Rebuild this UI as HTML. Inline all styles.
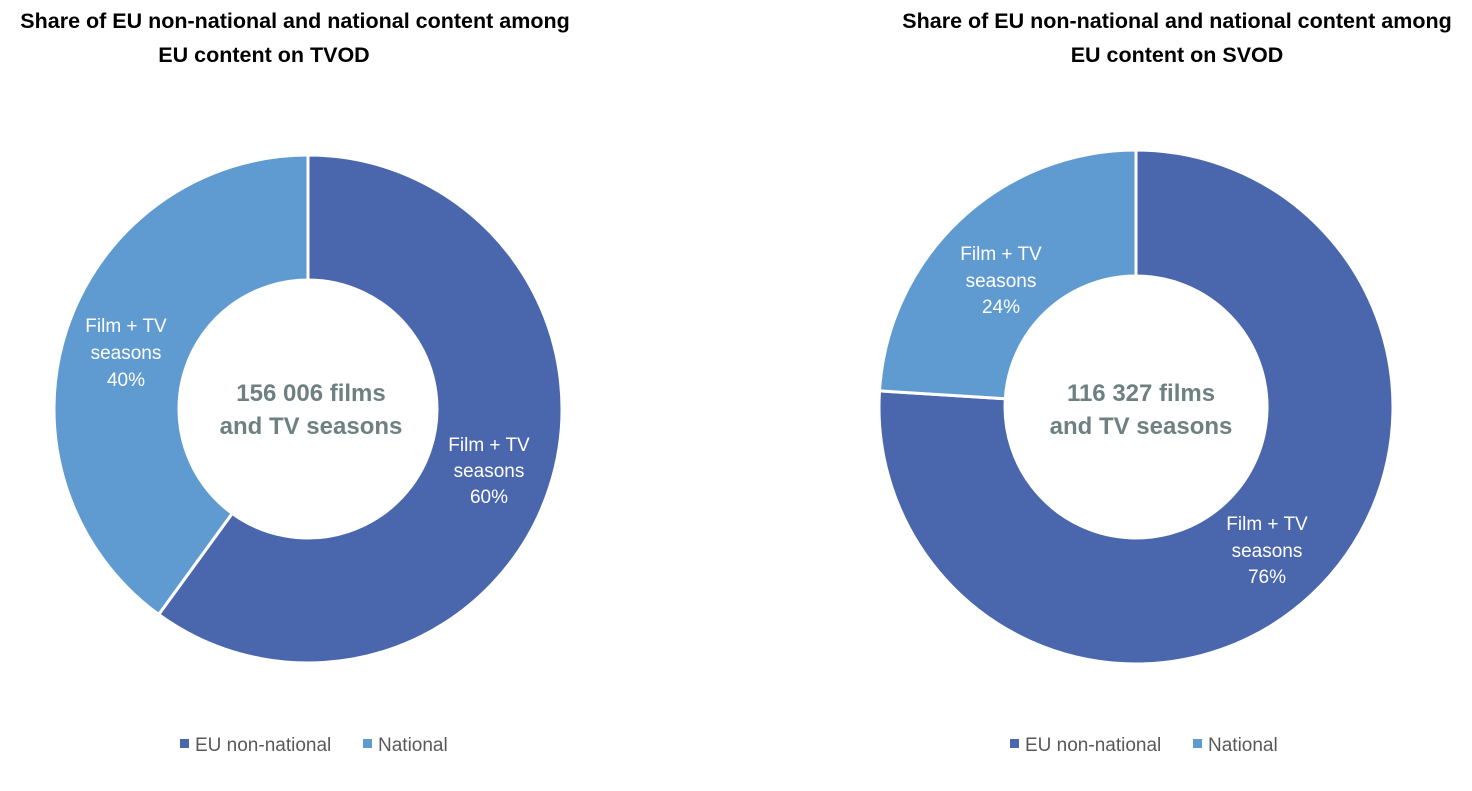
<!DOCTYPE html>
<html><head><meta charset="utf-8"><style>
html,body{margin:0;padding:0;background:#fff;}
svg{display:block;font-family:"Liberation Sans",sans-serif;}
</style></head><body>
<svg width="1472" height="791" viewBox="0 0 1472 791">
<g font-weight="bold" font-size="21.5" fill="#000" text-anchor="middle">
<text x="295" y="28">Share of EU non-national and national content among</text>
<text x="264" y="62">EU content on TVOD</text>
<text x="1177" y="28">Share of EU non-national and national content among</text>
<text x="1177" y="62">EU content on SVOD</text>
</g>
<g stroke="#fff" stroke-width="3" stroke-linejoin="miter">
<path d="M308,155 A254,254 0 1 1 158.7,614.5 L232.2,513.4 A129,129 0 1 0 308,280 Z" fill="#4a66ad"/>
<path d="M158.7,614.5 A254,254 0 0 1 308,155 L308,280 A129,129 0 0 0 232.2,513.4 Z" fill="#5f9bd1"/>
<path d="M1136,150 A257,257 0 1 1 879.5,390.9 L1005.3,398.8 A131,131 0 1 0 1136,276 Z" fill="#4a66ad"/>
<path d="M879.5,390.9 A257,257 0 0 1 1136,150 L1136,276 A131,131 0 0 0 1005.3,398.8 Z" fill="#5f9bd1"/>
</g>
<g fill="#fff" font-size="19" text-anchor="middle">
<text x="126" y="332">Film + TV</text><text x="126" y="359">seasons</text><text x="126" y="386">40%</text>
<text x="489" y="451">Film + TV</text><text x="489" y="477">seasons</text><text x="489" y="503">60%</text>
<text x="1001" y="260">Film + TV</text><text x="1001" y="287">seasons</text><text x="1001" y="313">24%</text>
<text x="1267" y="530">Film + TV</text><text x="1267" y="557">seasons</text><text x="1267" y="583">76%</text>
</g>
<g fill="#6e8080" font-weight="bold" font-size="24" text-anchor="middle">
<text x="311" y="401">156 006 films</text><text x="311" y="434">and TV seasons</text>
<text x="1141" y="401">116 327 films</text><text x="1141" y="434">and TV seasons</text>
</g>
<g font-size="19" fill="#595959">
<rect x="180" y="739" width="9" height="9" fill="#4a66ad"/><text x="195" y="751">EU non-national</text>
<rect x="363" y="739" width="9" height="9" fill="#5f9bd1"/><text x="378" y="751">National</text>
<rect x="1010" y="739" width="9" height="9" fill="#4a66ad"/><text x="1025" y="751">EU non-national</text>
<rect x="1193" y="739" width="9" height="9" fill="#5f9bd1"/><text x="1208" y="751">National</text>
</g>
</svg>
</body></html>
